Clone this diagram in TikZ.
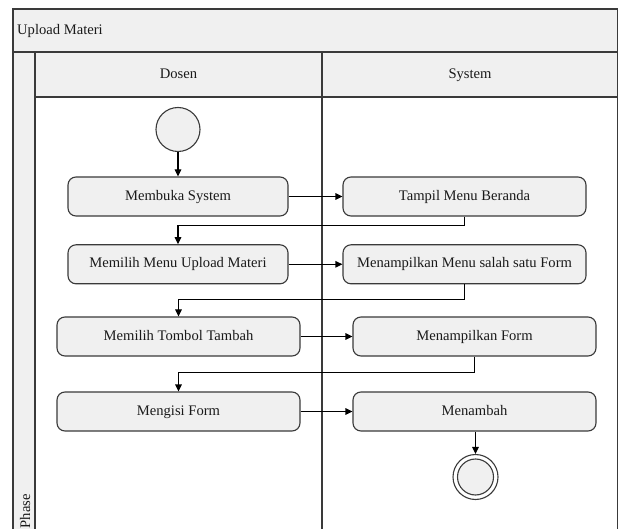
\documentclass[tikz,border=0pt]{standalone}
\usepackage{fontspec}
\setmainfont{Liberation Serif}
\usetikzlibrary{arrows.meta}
\definecolor{pane}{HTML}{F0F0F0}
\definecolor{edgec}{HTML}{3A3A3A}
\definecolor{inkc}{HTML}{1A1A1A}
\begin{document}
\begin{tikzpicture}[x=1pt,y=-1pt,
  font=\fontsize{14.6}{17}\selectfont,
  every node/.style={text=inkc},
  lbl/.style={text height=10.5pt, text depth=3.2pt},
  frame/.style={draw=edgec, line width=1.2pt},
  act/.style={lbl, draw=edgec, line width=1.1pt, fill=pane, rounded corners=8pt, minimum height=39pt, inner sep=0pt},
  flow/.style={line width=1.1pt, draw=black, -{Triangle[length=7pt,width=6.5pt]}}]
\useasboundingbox (0,0) rectangle (621,529);
\clip (0,0) rectangle (621,529);
% frame
\fill[white] (13,9) rectangle (617.5,540);
\fill[pane] (13,9) rectangle (617.5,97);
\fill[pane] (13,52) rectangle (35,540);
\draw[frame] (13,540) -- (13,9) -- (617.5,9) -- (617.5,540);
\draw[frame] (13,52) -- (617.5,52);
\draw[frame] (35,52) -- (35,540);
\draw[frame] (35,97) -- (617.5,97);
\draw[frame] (322,52) -- (322,540);
\node[lbl, anchor=west, inner sep=0pt] (title) at (17,30.5) {Upload Materi};
\node[lbl] (dosen) at (178.5,74.5) {Dosen};
\node[lbl] (system) at (470,74.5) {System};
\node[rotate=90, anchor=base west, inner sep=0pt] (phase) at (30,528.5) {Phase};
% activities
\node[draw=edgec, line width=1.1pt, fill=pane, circle, minimum size=44pt, inner sep=0pt] (start) at (178,129.5) {};
\node[act, minimum width=220pt] (a1) at (178,196.5) {Membuka System};
\node[act, minimum width=243pt] (b1) at (464.5,196.5) {Tampil Menu Beranda};
\node[act, minimum width=220pt] (a2) at (178,264.3) {Memilih Menu Upload Materi};
\node[act, minimum width=243pt] (b2) at (464.5,264.3) {Menampilkan Menu salah satu Form};
\node[act, minimum width=243pt] (a3) at (178.5,336.5) {Memilih Tombol Tambah};
\node[act, minimum width=243pt] (b3) at (474.5,336.5) {Menampilkan Form};
\node[act, minimum width=243pt] (a4) at (178.5,411.5) {Mengisi Form};
\node[act, minimum width=243pt] (b4) at (474.5,411.5) {Menambah};
\node[draw=edgec, line width=1.1pt, fill=white, circle, minimum size=45pt, inner sep=0pt] (end) at (475.5,477) {};
\node[draw=edgec, line width=1.1pt, fill=pane, circle, minimum size=36pt, inner sep=0pt] (endin) at (475.5,477) {};
% flows
\draw[flow] (start) -- (a1);
\draw[flow] (a1) -- (b1);
\draw[flow] (b1.south) -- ++(0,9) -| (a2.north);
\draw[flow] (a2) -- (b2);
\draw[flow] (b2.south) -- ++(0,15.2) -| (a3.north);
\draw[flow] (a3) -- (b3);
\draw[flow] (b3.south) -- ++(0,15.5) -| (a4.north);
\draw[flow] (a4) -- (b4);
\draw[flow] (b4.south -| end.north) -- (end.north);
\end{tikzpicture}
\end{document}
